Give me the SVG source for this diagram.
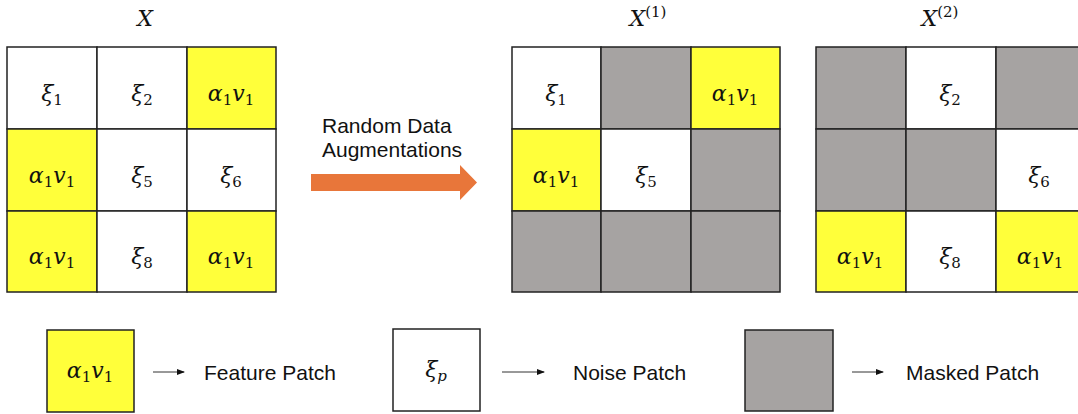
<svg xmlns="http://www.w3.org/2000/svg" width="1078" height="414" viewBox="0 0 1078 414">
<defs>
<style>
.y{fill:#ffff3a;stroke:#222;stroke-width:1.5}
.w{fill:#fff;stroke:#222;stroke-width:1.5}
.g{fill:#a6a3a2;stroke:#222;stroke-width:1.5}
.m{font-family:"Cambria Math","DejaVu Serif","Liberation Serif",serif;font-style:italic;font-size:22px;fill:#111;text-anchor:middle}
.s{font-size:15px;font-style:normal}
.si{font-size:15px;font-style:italic}
.t{font-family:"Liberation Sans",Arial,sans-serif;font-size:21px;fill:#111}
.ln{stroke:#333;stroke-width:1}
</style>
<marker id="ah" markerWidth="8" markerHeight="8" refX="7" refY="4" orient="auto" markerUnits="userSpaceOnUse"><path d="M0,1 L8,4 L0,7 Z" fill="#111"/></marker>
</defs>
<rect width="1078" height="414" fill="#fff"/>
<g id="gridX">
<text class="m" x="145" y="26">X</text>
<rect class="w" x="7" y="47" width="90" height="82"/>
<rect class="w" x="97" y="47" width="90" height="82"/>
<rect class="y" x="187" y="47" width="89" height="82"/>
<rect class="y" x="7" y="129" width="90" height="82"/>
<rect class="w" x="97" y="129" width="90" height="82"/>
<rect class="w" x="187" y="129" width="89" height="82"/>
<rect class="y" x="7" y="211" width="90" height="81"/>
<rect class="w" x="97" y="211" width="90" height="81"/>
<rect class="y" x="187" y="211" width="89" height="81"/>
<text class="m" x="52" y="101">ξ<tspan class="s" dy="4">1</tspan></text>
<text class="m" x="142" y="101">ξ<tspan class="s" dy="4">2</tspan></text>
<text class="m" x="231" y="101">α<tspan class="s" dy="4">1</tspan><tspan dy="-4">v</tspan><tspan class="s" dy="4">1</tspan></text>
<text class="m" x="52" y="183">α<tspan class="s" dy="4">1</tspan><tspan dy="-4">v</tspan><tspan class="s" dy="4">1</tspan></text>
<text class="m" x="142" y="183">ξ<tspan class="s" dy="4">5</tspan></text>
<text class="m" x="231" y="183">ξ<tspan class="s" dy="4">6</tspan></text>
<text class="m" x="52" y="264">α<tspan class="s" dy="4">1</tspan><tspan dy="-4">v</tspan><tspan class="s" dy="4">1</tspan></text>
<text class="m" x="142" y="264">ξ<tspan class="s" dy="4">8</tspan></text>
<text class="m" x="231" y="264">α<tspan class="s" dy="4">1</tspan><tspan dy="-4">v</tspan><tspan class="s" dy="4">1</tspan></text>
</g>
<g id="gridX1">
<text class="m" x="648" y="26">X<tspan class="s" dy="-9">(1)</tspan></text>
<rect class="w" x="512" y="47" width="89" height="82"/>
<rect class="g" x="601" y="47" width="90" height="82"/>
<rect class="y" x="691" y="47" width="89" height="82"/>
<rect class="y" x="512" y="129" width="89" height="82"/>
<rect class="w" x="601" y="129" width="90" height="82"/>
<rect class="g" x="691" y="129" width="89" height="82"/>
<rect class="g" x="512" y="211" width="89" height="81"/>
<rect class="g" x="601" y="211" width="90" height="81"/>
<rect class="g" x="691" y="211" width="89" height="81"/>
<text class="m" x="556" y="101">ξ<tspan class="s" dy="4">1</tspan></text>
<text class="m" x="735" y="101">α<tspan class="s" dy="4">1</tspan><tspan dy="-4">v</tspan><tspan class="s" dy="4">1</tspan></text>
<text class="m" x="556" y="183">α<tspan class="s" dy="4">1</tspan><tspan dy="-4">v</tspan><tspan class="s" dy="4">1</tspan></text>
<text class="m" x="646" y="183">ξ<tspan class="s" dy="4">5</tspan></text>
</g>
<g id="gridX2">
<text class="m" x="940" y="26">X<tspan class="s" dy="-9">(2)</tspan></text>
<rect class="g" x="816" y="47" width="90" height="82"/>
<rect class="w" x="906" y="47" width="90" height="82"/>
<rect class="g" x="996" y="47" width="90" height="82"/>
<rect class="g" x="816" y="129" width="90" height="82"/>
<rect class="g" x="906" y="129" width="90" height="82"/>
<rect class="w" x="996" y="129" width="90" height="82"/>
<rect class="y" x="816" y="211" width="90" height="81"/>
<rect class="w" x="906" y="211" width="90" height="81"/>
<rect class="y" x="996" y="211" width="90" height="81"/>
<text class="m" x="950" y="101">ξ<tspan class="s" dy="4">2</tspan></text>
<text class="m" x="1039" y="183">ξ<tspan class="s" dy="4">6</tspan></text>
<text class="m" x="860" y="264">α<tspan class="s" dy="4">1</tspan><tspan dy="-4">v</tspan><tspan class="s" dy="4">1</tspan></text>
<text class="m" x="950" y="264">ξ<tspan class="s" dy="4">8</tspan></text>
<text class="m" x="1040" y="264">α<tspan class="s" dy="4">1</tspan><tspan dy="-4">v</tspan><tspan class="s" dy="4">1</tspan></text>
</g>
<g id="augment">
<text class="t" x="322" y="133" font-size="17.5">Random Data</text>
<text class="t" x="322" y="157" font-size="17.5">Augmentations</text>
<path d="M311,174 H460 V165 L477,182.5 L460,200 V191 H311 Z" fill="#e8763a"/>
</g>
<g id="legend-feature">
<rect class="y" x="47" y="330" width="87" height="82"/>
<text class="m" x="90" y="378">α<tspan class="s" dy="4">1</tspan><tspan dy="-4">v</tspan><tspan class="s" dy="4">1</tspan></text>
<text class="t" x="204" y="380">Feature Patch</text>
</g>
<g id="legend-noise">
<rect class="w" x="393" y="329" width="87" height="82"/>
<text class="m" x="436" y="377">ξ<tspan class="si" dy="4">p</tspan></text>
<text class="t" x="573" y="380">Noise Patch</text>
</g>
<g id="legend-masked">
<rect class="g" x="745" y="330" width="88" height="81"/>
<text class="t" x="906" y="380">Masked Patch</text>
</g>
<g id="connectors">
<line class="ln" x1="153" y1="372" x2="184" y2="372" marker-end="url(#ah)"/>
<line class="ln" x1="502" y1="372" x2="544" y2="372" marker-end="url(#ah)"/>
<line class="ln" x1="852" y1="372" x2="883" y2="372" marker-end="url(#ah)"/>
</g>
</svg>
